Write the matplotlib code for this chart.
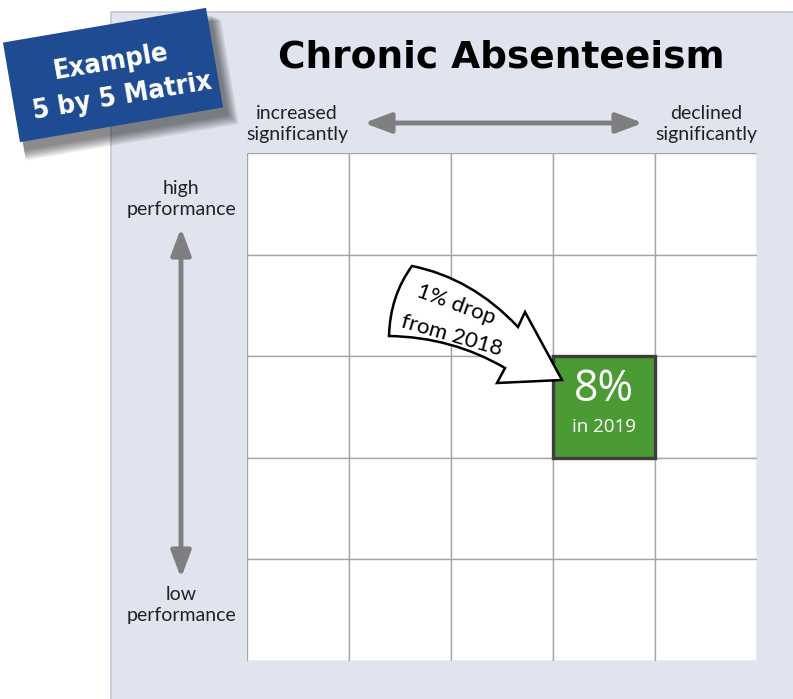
import matplotlib
matplotlib.use("Agg")
import matplotlib.pyplot as plt
from matplotlib.patches import Rectangle, Polygon, PathPatch
from matplotlib.path import Path
import numpy as np

# ---- data ----
title = "Chronic Absenteeism"
banner_lines = ["Example", "5 by 5 Matrix"]
x_labels = ["increased\nsignificantly", "declined\nsignificantly"]
y_labels = ["high\nperformance", "low\nperformance"]
n_rows = 5
n_cols = 5
highlight_row = 2
highlight_col = 3
highlight_value = "8%"
highlight_year = "in 2019"
change_lines = ["1% drop", "from 2018"]

W, H = 793, 699
fig = plt.figure(figsize=(W / 100, H / 100), dpi=100)
fig.patch.set_facecolor("white")

# background axes in pixel coordinates
bg = fig.add_axes([0, 0, 1, 1])
bg.set_xlim(0, W)
bg.set_ylim(H, 0)
bg.axis("off")

bg.add_patch(Rectangle((111, 12), W - 111 + 5, H - 12 + 5, fc="#dfe4ef",
                       ec="#c3c8d4", lw=1.2, zorder=0))

# banner
cx, cy, bw, bh, th = 113, 75, 206, 101, np.deg2rad(9.7)
u = np.array([np.cos(th), -np.sin(th)])
v = np.array([np.sin(th), np.cos(th)])
c = np.array([cx, cy])
corners = [c - u * bw / 2 - v * bh / 2, c + u * bw / 2 - v * bh / 2,
           c + u * bw / 2 + v * bh / 2, c - u * bw / 2 + v * bh / 2]
for k in range(8, 0, -1):
    off = np.array([4 + k * 0.8, 7 + k * 1.0])
    grow = k * 1.2
    sc = [c + (p - c) * (1 + grow / 200) + off for p in corners]
    bg.add_patch(Polygon(sc, closed=True, fc="black", ec="none", alpha=0.07, zorder=1))
bg.add_patch(Polygon(corners, closed=True, fc="#1f4b93", ec="none", zorder=2))
ban_kw = dict(rotation=9.7, ha="center", va="center", color="white", fontsize=19.5,
              fontweight="bold", family=["DejaVu Sans"], fontstretch="condensed",
              zorder=3)
bg.text(111, 62, banner_lines[0], **ban_kw)
bg.text(122, 97, banner_lines[1], **ban_kw)

# title
bg.text(501, 57, title, ha="center", va="center", fontsize=27, fontweight="bold",
        family=["DejaVu Sans"], color="black")

lab_kw = dict(ha="center", va="center", fontsize=14, color="#222222",
              family=["Lato", "DejaVu Sans"], linespacing=1.3)
bg.text(297, 124, x_labels[0], **lab_kw)
bg.text(706, 124, x_labels[1], **lab_kw)
bg.text(181, 199, y_labels[0], **lab_kw)
bg.text(181, 605, y_labels[1], **lab_kw)

arr_kw = dict(arrowstyle="<|-|>,head_length=0.8,head_width=0.3", color="#7f7f7f",
              lw=3.5, mutation_scale=20, shrinkA=0, shrinkB=0)
bg.annotate("", xy=(643, 123), xytext=(364, 123), arrowprops=arr_kw)
bg.annotate("", xy=(181, 578), xytext=(181, 228), arrowprops=arr_kw)

# grid axes
gl, gt, gr, gb = 247, 153, 757, 661
ax = fig.add_axes([gl / W, 1 - gb / H, (gr - gl) / W, (gb - gt) / H])
ax.set_xlim(0, n_cols)
ax.set_ylim(n_rows, 0)
ax.axis("off")
for r in range(n_rows):
    for col in range(n_cols):
        ax.add_patch(Rectangle((col, r), 1, 1, fc="white", ec="#a6a6a6", lw=1.0))
ax.add_patch(Rectangle((highlight_col, highlight_row), 1, 1, fc="#4b9a33",
                       ec="#3d3d3d", lw=2.4, zorder=5))
ax.text(highlight_col + 0.5, highlight_row + 0.33, highlight_value, ha="center",
        va="center", color="white", fontsize=31, family=["Open Sans", "DejaVu Sans"],
        zorder=6)
ax.text(highlight_col + 0.5, highlight_row + 0.70, highlight_year, ha="center",
        va="center", color="white", fontsize=13.5, family=["Open Sans", "DejaVu Sans"],
        zorder=6)

# overlay axes for the curved arrow
top = fig.add_axes([0, 0, 1, 1])
top.set_xlim(0, W)
top.set_ylim(H, 0)
top.axis("off")
top.patch.set_alpha(0)
verts = [(412, 266), (472, 278), (518, 327), (525, 312), (562, 380), (497, 383),
         (505, 368), (452, 337), (389, 336), (390, 296), (412, 266), (412, 266)]
codes = [Path.MOVETO, Path.CURVE3, Path.CURVE3, Path.LINETO, Path.LINETO,
         Path.LINETO, Path.LINETO, Path.CURVE3, Path.CURVE3, Path.CURVE3,
         Path.CURVE3, Path.CLOSEPOLY]
top.add_patch(PathPatch(Path(verts, codes), fc="white", ec="black", lw=1.8,
                        joinstyle="miter"))
top.text(456, 305, change_lines[0], rotation=-20, ha="center", va="center",
         fontsize=16, family=["Lato", "DejaVu Sans"], color="black")
top.text(452, 336, change_lines[1], rotation=-16, ha="center", va="center",
         fontsize=16, family=["Lato", "DejaVu Sans"], color="black")

fig.savefig("out.png", dpi=100)
